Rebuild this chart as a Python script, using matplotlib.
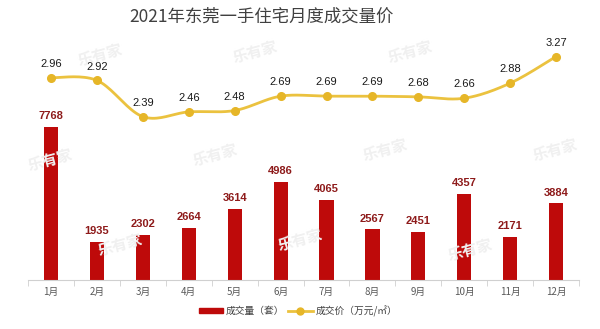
import numpy as np
import matplotlib.pyplot as plt
from matplotlib.lines import Line2D
from matplotlib.patches import Patch

plt.rcParams['font.family'] = ['Noto Sans CJK SC', 'DejaVu Sans']

# 2021年东莞一手住宅月度数据
months = ['1月', '2月', '3月', '4月', '5月', '6月', '7月', '8月', '9月', '10月', '11月', '12月']
volume = [7768, 1935, 2302, 2664, 3614, 4986, 4065, 2567, 2451, 4357, 2171, 3884]
price = [2.96, 2.92, 2.39, 2.46, 2.48, 2.69, 2.69, 2.69, 2.68, 2.66, 2.88, 3.27]

bar_color = '#BE0A0A'
line_color = '#EBC23F'
marker_color = '#E6B628'
num_font = ['Liberation Sans', 'DejaVu Sans']


def smooth_curve(x, y, n=20, t=0.5):
    # Catmull-Rom 平滑曲线
    x = np.asarray(x, float)
    y = np.asarray(y, float)
    px = np.concatenate([[x[0]], x, [x[-1]]])
    py = np.concatenate([[y[0]], y, [y[-1]]])
    xs, ys = [], []
    for i in range(1, len(px) - 2):
        s = np.linspace(0, 1, n, endpoint=False)
        m0x = (px[i + 1] - px[i - 1]) * t
        m1x = (px[i + 2] - px[i]) * t
        m0y = (py[i + 1] - py[i - 1]) * t
        m1y = (py[i + 2] - py[i]) * t
        h00 = 2 * s**3 - 3 * s**2 + 1
        h10 = s**3 - 2 * s**2 + s
        h01 = -2 * s**3 + 3 * s**2
        h11 = s**3 - s**2
        xs.append(h00 * px[i] + h10 * m0x + h01 * px[i + 1] + h11 * m1x)
        ys.append(h00 * py[i] + h10 * m0y + h01 * py[i + 1] + h11 * m1y)
    xs.append([x[-1]])
    ys.append([y[-1]])
    return np.concatenate(xs), np.concatenate(ys)


fig = plt.figure(figsize=(6, 3.29), dpi=100)
ax = fig.add_axes([0.047, 0.149, 0.918, 0.729])
ax2 = ax.twinx()

x = np.arange(len(months))
ax.bar(x, volume, width=0.31, color=bar_color, zorder=2)
for xi, v in zip(x, volume):
    ax.text(xi, v + 300, str(v), ha='center', va='bottom', fontsize=8,
            color='#8E1B1B', fontweight='bold', family=num_font)

ax.set_xlim(-0.5, len(months) - 0.5)
ax.set_ylim(0, 12180)
ax.set_yticks([])
for side in ['top', 'right', 'left']:
    ax.spines[side].set_visible(False)
ax.spines['bottom'].set_color('#D0D0D0')
ax.set_xticks(x)
ax.set_xticklabels(months, fontsize=7, color='#595959')
ax.tick_params(axis='x', length=0, pad=5)
ax.set_xticks(np.arange(-0.5, len(months)), minor=True)
ax.tick_params(axis='x', which='minor', length=4, color='#D0D0D0')

sx, sy = smooth_curve(x, price)
ax2.plot(sx, sy, color=line_color, lw=2, zorder=3)
ax2.plot(x, price, 'o', color=marker_color, ms=5.5, zorder=4)
for xi, p in zip(x, price):
    ax2.text(xi, p + 0.13, f'{p:.2f}', ha='center', va='bottom', fontsize=8,
             color='#1A1A1A', family=num_font)
ax2.set_ylim(0, 3.51)
ax2.set_yticks([])
for side in ['top', 'right', 'left', 'bottom']:
    ax2.spines[side].set_visible(False)

# 水印
for wx, wy in [(100, 55), (255, 52), (410, 52), (50, 160), (215, 155), (385, 150),
               (555, 150), (120, 245), (300, 240), (470, 250)]:
    fig.text(wx / 600, 1 - wy / 329, '乐有家', fontsize=11, color='#F0F0F0',
             rotation=15, ha='center', va='center', fontweight='bold', zorder=0)

fig.text(261 / 600, 1 - 17 / 329, '2021年东莞一手住宅月度成交量价', ha='center',
         va='center', fontsize=12.5, color='#404040', fontweight='medium')

handles = [Patch(color=bar_color, label='成交量（套）'),
           Line2D([0], [0], color=line_color, lw=2, marker='o', ms=5,
                  markerfacecolor=marker_color, markeredgecolor=marker_color,
                  label='成交价（万元/㎡）')]
fig.legend(handles=handles, loc='center', bbox_to_anchor=(298 / 600, 1 - 311 / 329),
           ncol=2, frameon=False, fontsize=7, handlelength=2.5, handleheight=0.5,
           columnspacing=0.4, handletextpad=0.3, labelcolor='#404040')

fig.savefig('out.png', dpi=100)
